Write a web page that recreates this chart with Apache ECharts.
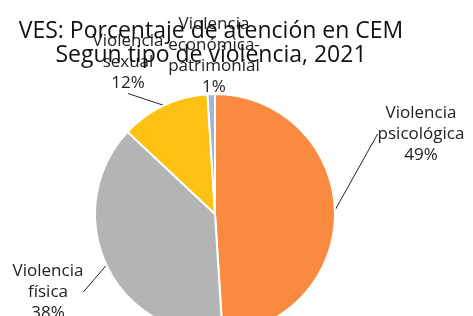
<!DOCTYPE html>
<html>
<head>
<meta charset="utf-8">
<script src="https://cdn.jsdelivr.net/npm/echarts@6/dist/echarts.min.js"></script>
<style>
  html, body { margin: 0; padding: 0; background: #fff; }
  #chart { width: 473px; height: 316px; }
</style>
</head>
<body>
<div id="chart"></div>
<script>
// datos
const categories = ['Violencia\npsicológica', 'Violencia\nfísica', 'Violencia\nsexual', 'Violencia\neconómica-\npatrimonial']
const values = [49, 38, 12, 1]
const colors = ['#F98A3F', '#B4B4B4', '#FDC211', '#9DB5DE']

// donde va cada etiqueta (centro)
const labelPos = [
  [421, 134],
  [48, 292],
  [128, 62],
  [214, 56]
]

const chart = echarts.init(document.getElementById('chart'))

chart.setOption({
  animation: false,
  title: {
    text: 'VES: Porcentaje de atención en CEM\nSegun tipo de violencia, 2021',
    left: 206,
    top: 14,
    textAlign: 'center',
    textStyle: {
      fontFamily: 'Open Sans',
      fontSize: 23,
      fontWeight: 'normal',
      lineHeight: 24,
      color: '#111'
    }
  },
  series: [
    {
      type: 'pie',
      center: [215, 214],
      radius: 120,
      startAngle: 90,
      clockwise: true,
      itemStyle: {
        borderColor: '#fff',
        borderWidth: 2
      },
      label: {
        show: true,
        formatter: p => p.name + '\n' + p.value + '%',
        fontFamily: 'Open Sans',
        fontSize: 17,
        lineHeight: 21,
        color: '#222',
        align: 'center'
      },
      labelLine: {
        show: true,
        length: 10,
        length2: 0,
        lineStyle: { color: '#222', width: 1 }
      },
      labelLayout: params => {
        const pos = labelPos[params.dataIndex]
        return {
          x: pos[0],
          y: pos[1],
          align: 'center',
          verticalAlign: 'middle'
        }
      },
      data: categories.map((c, i) => ({
        name: c,
        value: values[i],
        itemStyle: { color: colors[i] }
      }))
    }
  ]
})
</script>
</body>
</html>
